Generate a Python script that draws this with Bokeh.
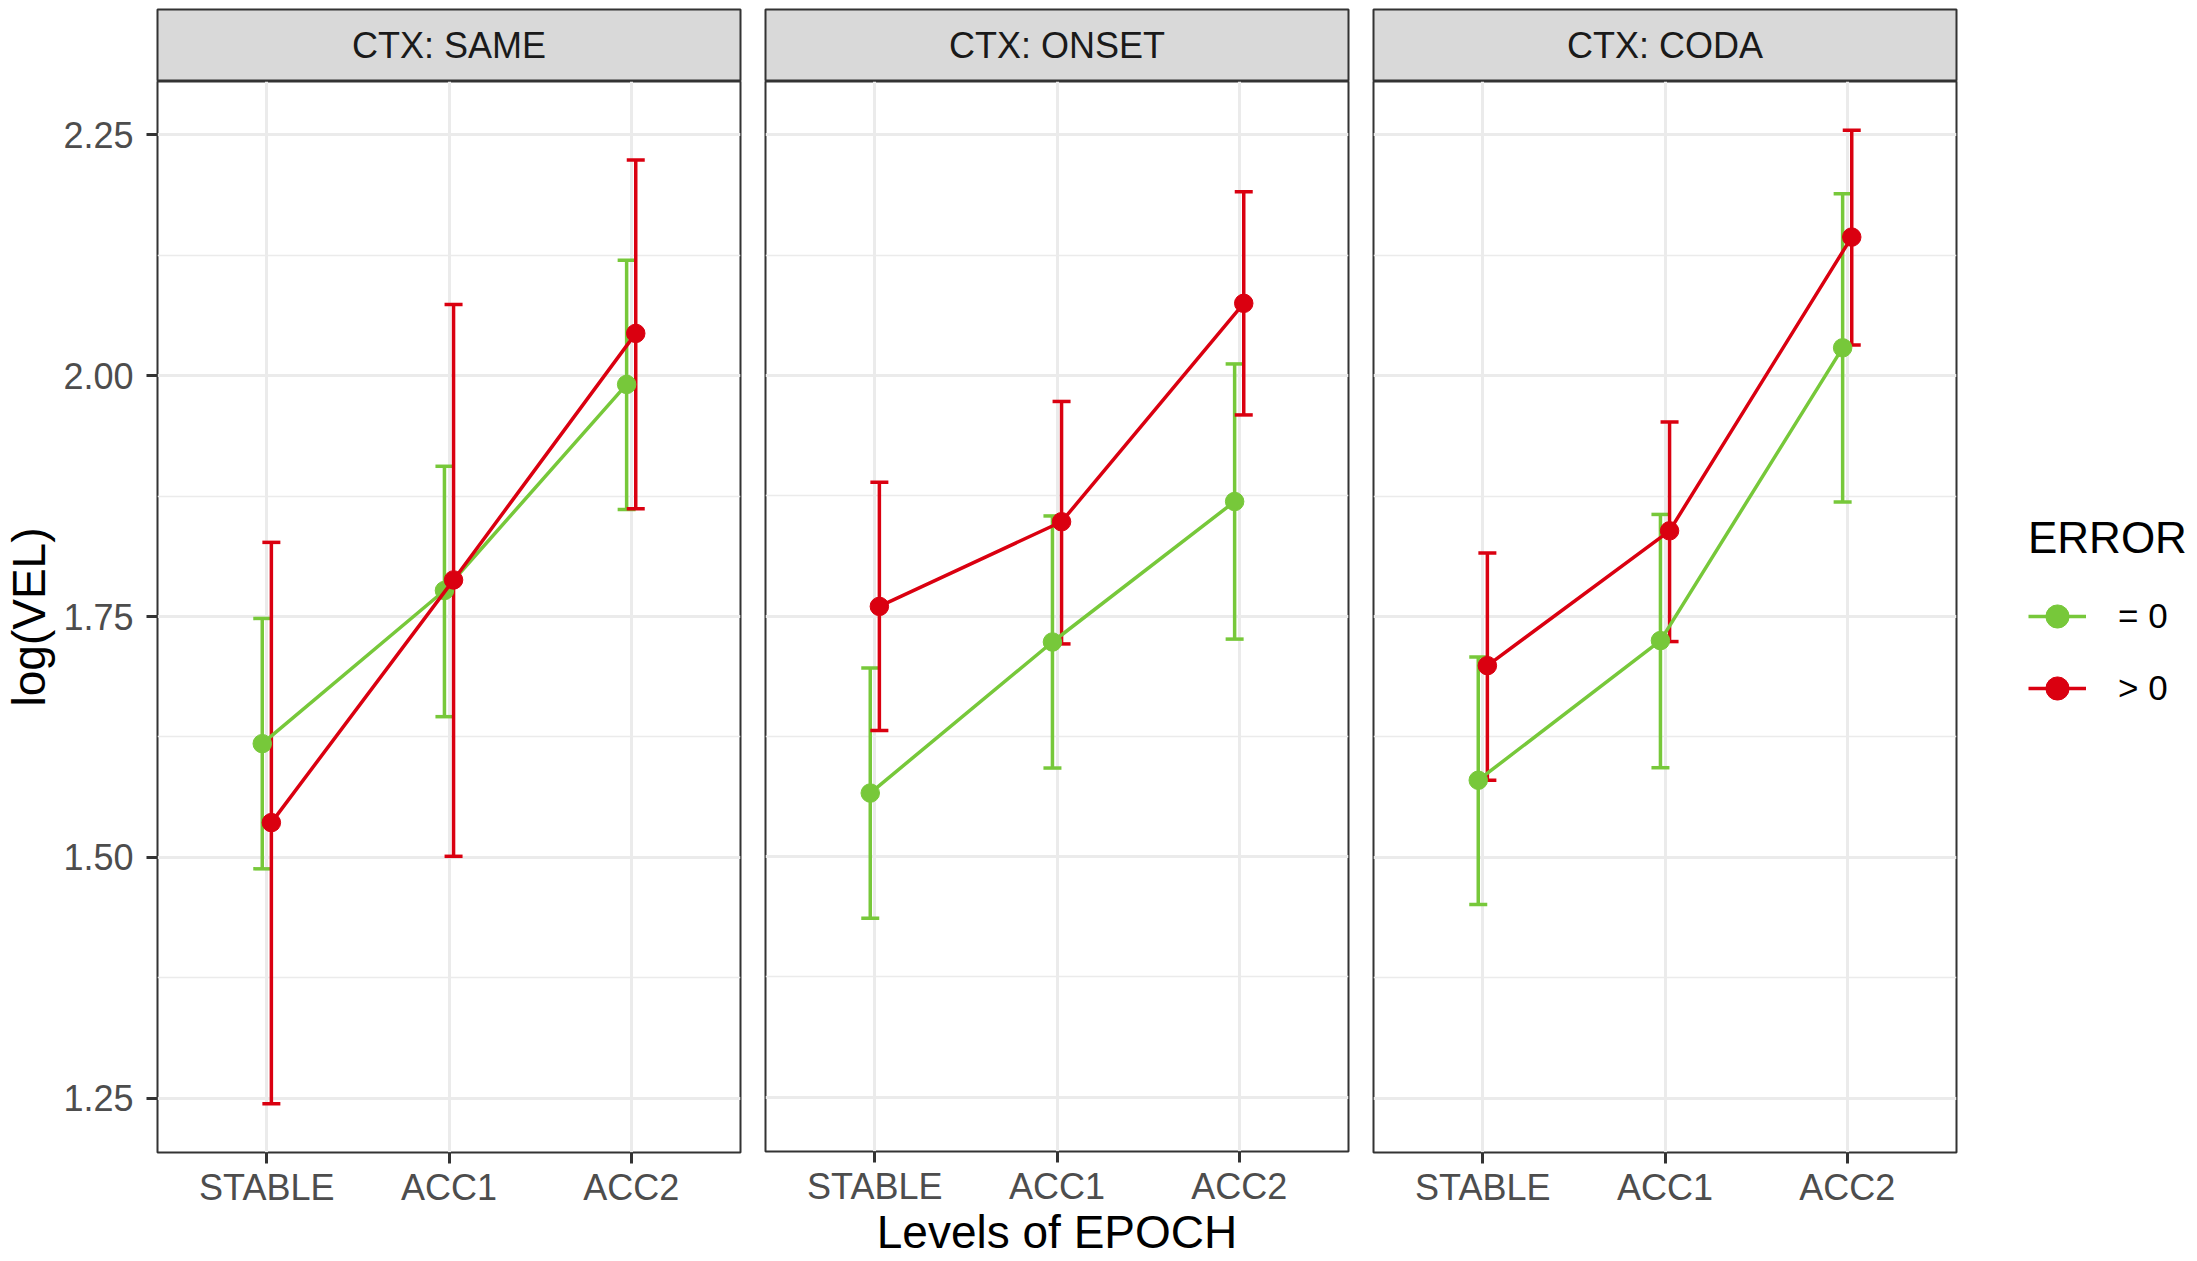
from bokeh.plotting import figure
from bokeh.models import (Range1d, FixedTicker, Whisker, TeeHead, ColumnDataSource,
                          Legend, LegendItem, Label)
from bokeh.layouts import row, column
from bokeh.embed import file_html
from bokeh.resources import INLINE

# ---------------- data ----------------
epochs = ["STABLE", "ACC1", "ACC2"]
contexts = ["CTX: SAME", "CTX: ONSET", "CTX: CODA"]
error_levels = ["= 0", "> 0"]

# ERROR = 0 (green)
eq0_mean = {"CTX: SAME": [1.618, 1.777, 1.991],
            "CTX: ONSET": [1.566, 1.723, 1.869],
            "CTX: CODA": [1.580, 1.725, 2.029]}
eq0_lo = {"CTX: SAME": [1.488, 1.646, 1.861],
          "CTX: ONSET": [1.436, 1.592, 1.726],
          "CTX: CODA": [1.451, 1.593, 1.869]}
eq0_hi = {"CTX: SAME": [1.748, 1.906, 2.120],
          "CTX: ONSET": [1.696, 1.854, 2.012],
          "CTX: CODA": [1.708, 1.856, 2.189]}

# ERROR > 0 (red)
gt0_mean = {"CTX: SAME": [1.536, 1.788, 2.044],
            "CTX: ONSET": [1.760, 1.848, 2.075],
            "CTX: CODA": [1.699, 1.839, 2.144]}
gt0_lo = {"CTX: SAME": [1.244, 1.501, 1.862],
          "CTX: ONSET": [1.631, 1.721, 1.959],
          "CTX: CODA": [1.580, 1.724, 2.032]}
gt0_hi = {"CTX: SAME": [1.827, 2.074, 2.224],
          "CTX: ONSET": [1.889, 1.973, 2.191],
          "CTX: CODA": [1.816, 1.952, 2.255]}

y_ticks = [1.25, 1.50, 1.75, 2.00, 2.25]
y_tick_labels = ["1.25", "1.50", "1.75", "2.00", "2.25"]
y_minor = [1.375, 1.625, 1.875, 2.125]

# ---------------- style ----------------
FONT = "Liberation Sans"
GREEN = "#77C83A"
RED = "#DA0010"
GRID = "#EBEBEB"
DARK = "#333333"
LW = 3.5

series = [
    ("= 0", GREEN, eq0_mean, eq0_lo, eq0_hi, -0.025),
    ("> 0", RED, gt0_mean, gt0_lo, gt0_hi, 0.025),
]

all_lo = min(min(v) for d in (eq0_lo, gt0_lo) for v in d.values())
all_hi = max(max(v) for d in (eq0_hi, gt0_hi) for v in d.values())
span = all_hi - all_lo
y_range = Range1d(all_lo - 0.05 * span, all_hi + 0.05 * span)

FRAME_W = 583
FRAME_H = 1071
STRIP_TOP = 9
STRIP_H = 72
BOTTOM = 108
borders = [(157, 12), (13, 12), (13, 12)]
TOTAL_H = STRIP_TOP + STRIP_H + FRAME_H + BOTTOM
LEGEND_W = 2189 - sum(bl + FRAME_W + br for bl, br in borders)

yticker = FixedTicker(ticks=y_ticks, minor_ticks=y_minor)

cols = []
for i, ctx in enumerate(contexts):
    bl, br = borders[i]
    w = bl + FRAME_W + br

    # facet strip
    s = figure(width=w, height=STRIP_TOP + STRIP_H, x_range=Range1d(0, 1), y_range=Range1d(0, 1),
               toolbar_location=None, output_backend="svg",
               x_axis_location=None, y_axis_location=None,
               min_border_left=bl, min_border_right=br, min_border_top=STRIP_TOP,
               min_border_bottom=0,
               background_fill_color="#D9D9D9", border_fill_color="white",
               outline_line_color=DARK, outline_line_width=2)
    s.grid.visible = False
    s.add_layout(Label(x=0.5, y=0.5, text=ctx, text_align="center", text_baseline="middle",
                       text_font=FONT, text_font_size="36px", text_color="#1A1A1A"))

    p = figure(width=w, height=FRAME_H + BOTTOM,
               x_range=Range1d(0.4, 3.6), y_range=y_range,
               toolbar_location=None, output_backend="svg",
               min_border_left=bl, min_border_right=br, min_border_top=0,
               min_border_bottom=BOTTOM,
               background_fill_color="white", border_fill_color="white",
               outline_line_color=DARK, outline_line_width=2)

    xticker = FixedTicker(ticks=[1, 2, 3], minor_ticks=[])
    p.xaxis.ticker = xticker
    p.xaxis.major_label_overrides = {j + 1: e for j, e in enumerate(epochs)}
    p.yaxis.ticker = yticker
    p.yaxis.major_label_overrides = {t: l for t, l in zip(y_ticks, y_tick_labels)}
    p.xgrid.ticker = xticker
    p.ygrid.ticker = yticker

    for ax in (p.xaxis, p.yaxis):
        ax.axis_line_color = None
        ax.major_tick_out = 11
        ax.major_tick_in = 0
        ax.major_tick_line_width = 3
        ax.major_tick_line_color = DARK
        ax.minor_tick_line_color = None
        ax.major_label_text_font = FONT
        ax.major_label_text_color = "#4D4D4D"
        ax.major_label_text_font_size = "36px"
        ax.axis_label_text_font = FONT
        ax.axis_label_text_font_size = "46px"
        ax.axis_label_text_font_style = "normal"
        ax.axis_label_text_color = "black"
    p.xaxis.major_label_standoff = 3
    p.yaxis.major_label_standoff = 13

    p.xgrid.grid_line_color = GRID
    p.xgrid.grid_line_width = 3
    p.ygrid.grid_line_color = GRID
    p.ygrid.grid_line_width = 3
    p.ygrid.minor_grid_line_color = GRID
    p.ygrid.minor_grid_line_width = 1.5

    if i == 0:
        p.yaxis.axis_label = "log(VEL)"
        p.yaxis.axis_label_standoff = 5
    else:
        p.yaxis.visible = False
    if i == 1:
        p.xaxis.axis_label = "Levels of EPOCH"
        p.xaxis.axis_label_standoff = -4

    for name, color, mean_d, lo_d, hi_d, off in series:
        src = ColumnDataSource(dict(
            x=[j + 1 + off for j in range(len(epochs))],
            mean=mean_d[ctx], lo=lo_d[ctx], hi=hi_d[ctx]))
        wh = Whisker(base="x", upper="hi", lower="lo", source=src, dimension="height",
                     line_color=color, line_width=LW,
                     upper_head=TeeHead(size=18, line_color=color, line_width=LW),
                     lower_head=TeeHead(size=18, line_color=color, line_width=LW))
        p.add_layout(wh)
        p.line("x", "mean", source=src, line_color=color, line_width=LW)
        p.scatter("x", "mean", source=src, size=18.5, fill_color=color, line_color=color)

    cols.append(column(s, p, spacing=0))

# ---------------- legend (separate key panel) ----------------
lf = figure(width=LEGEND_W, height=TOTAL_H, x_range=Range1d(0, 1), y_range=Range1d(0, 1),
            toolbar_location=None, output_backend="svg",
            x_axis_location=None, y_axis_location=None,
            min_border_left=0, min_border_right=0, min_border_top=0, min_border_bottom=0,
            background_fill_color="white", border_fill_color="white", outline_line_color=None)
lf.grid.visible = False
items = []
for k, (name, color, mean_d, *_rest) in enumerate(series):
    # key renderers reuse the first panel's values, which fall outside this key panel's range
    key_src = ColumnDataSource(dict(x=[v + 10 for v in mean_d[contexts[0]]],
                                    y=mean_d[contexts[0]]))
    lr = lf.line("x", "y", source=key_src, line_color=color, line_width=LW)
    sr = lf.scatter("x", "y", source=key_src, size=18.5, fill_color=color, line_color=color)
    items.append(LegendItem(label=name, renderers=[lr, sr]))
leg = Legend(items=items, title="ERROR", location=(60, 536),
             orientation="vertical", glyph_width=58, glyph_height=72,
             label_standoff=32, padding=0, margin=0, spacing=0, title_standoff=17,
             border_line_color=None, background_fill_alpha=0,
             label_text_font=FONT, label_text_font_size="35px", label_text_color="black",
             title_text_font=FONT, title_text_font_size="44px",
             title_text_font_style="normal", title_text_color="black")
lf.add_layout(leg)

layout = row(*cols, lf, spacing=0)
open("out.html", "w").write(file_html(layout, INLINE))
